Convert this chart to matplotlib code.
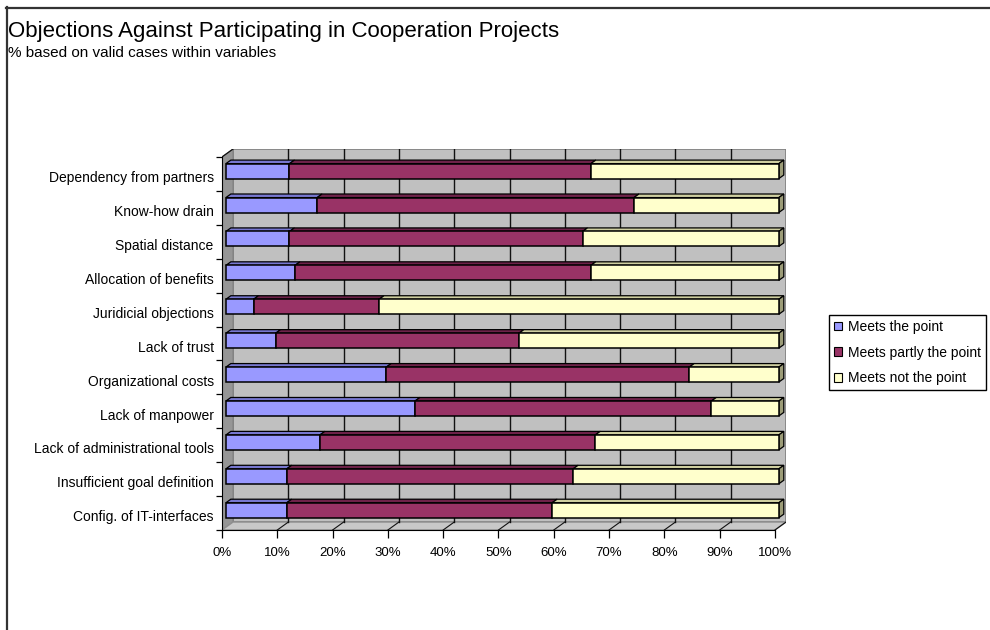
import matplotlib
matplotlib.use("Agg")
import matplotlib.pyplot as plt
from matplotlib.patches import Polygon, Patch
from matplotlib.lines import Line2D
import numpy as np

plt.rcParams['font.family'] = ['Liberation Sans', 'DejaVu Sans']

# categories listed bottom to top
objections = ['Config. of IT-interfaces', 'Insufficient goal definition',
              'Lack of administrational tools', 'Lack of manpower',
              'Organizational costs', 'Lack of trust', 'Juridicial objections',
              'Allocation of benefits', 'Spatial distance', 'Know-how drain',
              'Dependency from partners']
meets = [11.0, 11.0, 17.0, 34.2, 29.0, 9.0, 5.0, 12.5, 11.5, 16.5, 11.5]
meets_partly = [48.0, 51.8, 49.8, 53.6, 54.8, 44.0, 22.7, 53.5, 53.0, 57.3, 54.5]
meets_not = [100 - a - b for a, b in zip(meets, meets_partly)]

series_names = ['Meets the point', 'Meets partly the point', 'Meets not the point']
series_colors = ['#9999FF', '#993366', '#FFFFCC']
top_colors = ['#7777D0', '#6E2249', '#CFCFA0']
side_colors = ['#5C5CA0', '#4A1732', '#9C9C78']

# 3d depth vector in data units (x in %, y in category units)
DX, DY = 2.0, 0.235
D0, D1 = 0.35, 0.80   # front/back depth of the bars
BAR_H = 0.44


def proj(x, y, d):
    return (x + d * DX, y + d * DY)


fig = plt.figure(figsize=(9.9, 6.3), dpi=100)
ax = fig.add_axes([222 / 990, 100 / 630, 564 / 990, 381 / 630])
n = len(objections)
ax.set_xlim(0, 100 + DX)
ax.set_ylim(-0.5, n - 0.5 + DY)

# walls and floor
back = [proj(0, -0.5, 1), proj(100, -0.5, 1), proj(100, n - 0.5, 1), proj(0, n - 0.5, 1)]
ax.add_patch(Polygon(back, closed=True, fc='#C0C0C0', ec='#808080', lw=1.2, zorder=1))
left = [proj(0, -0.5, 0), proj(0, n - 0.5, 0), proj(0, n - 0.5, 1), proj(0, -0.5, 1)]
ax.add_patch(Polygon(left, closed=True, fc='#969696', ec='#808080', lw=0.8, zorder=1))
floor = [proj(0, -0.5, 0), proj(100, -0.5, 0), proj(100, -0.5, 1), proj(0, -0.5, 1)]
ax.add_patch(Polygon(floor, closed=True, fc='#C8C8C8', ec='#909090', lw=1.0, zorder=1))

# gridlines on the back wall and floor
for g in range(10, 100, 10):
    xs, ys = zip(proj(g, -0.5, 1), proj(g, n - 0.5, 1))
    ax.plot(xs, ys, color='#111111', lw=1.0, zorder=2)
for g in range(10, 101, 10):
    xs, ys = zip(proj(g, -0.5, 0), proj(g, -0.5, 1))
    ax.plot(xs, ys, color='#111111', lw=0.8, zorder=2)
xs, ys = zip(proj(0, n - 0.5, 0), proj(0, n - 0.5, 1))
ax.plot(xs, ys, color='#111111', lw=0.9, zorder=2)

# stacked 3d bars
series = [meets, meets_partly, meets_not]
cum = np.zeros(n)
for s, vals in enumerate(series):
    vals = np.array(vals)
    for i in range(n):
        l, r = cum[i], cum[i] + vals[i]
        yt = i + BAR_H / 2
        yb = i - BAR_H / 2
        top = [proj(l, yt, D0), proj(r, yt, D0), proj(r, yt, D1), proj(l, yt, D1)]
        ax.add_patch(Polygon(top, closed=True, fc=top_colors[s], ec='black', lw=0.9, zorder=3))
        if s == len(series) - 1:
            side = [proj(r, yb, D0), proj(r, yt, D0), proj(r, yt, D1), proj(r, yb, D1)]
            ax.add_patch(Polygon(side, closed=True, fc=side_colors[s], ec='black', lw=0.9, zorder=3))
    ax.barh(np.arange(n) + D0 * DY, vals, left=cum + D0 * DX, height=BAR_H,
            color=series_colors[s], edgecolor='black', linewidth=1.1, zorder=4)
    cum += vals

# axes
for sp in ['top', 'right']:
    ax.spines[sp].set_visible(False)
ax.spines['left'].set_bounds(-0.5, n - 0.5)
ax.spines['bottom'].set_bounds(0, 100)
ax.spines['left'].set_zorder(5)
ax.spines['bottom'].set_zorder(5)
ax.set_xticks(range(0, 101, 10), ['%d%%' % v for v in range(0, 101, 10)])
ax.set_yticks(np.arange(n) - 0.08, objections)
ax.set_yticks(np.arange(-0.5, n, 1.0), minor=True)
ax.tick_params(axis='x', length=6, width=0.9, pad=6, labelsize=9.5)
ax.tick_params(axis='y', which='major', length=0, pad=6, labelsize=10)
ax.tick_params(axis='y', which='minor', length=4, width=0.9)

fig.text(8 / 990, 1 - 32 / 630, 'Objections Against Participating in Cooperation Projects',
         fontsize=16, va='center', ha='left')
fig.text(8 / 990, 1 - 53 / 630, '% based on valid cases within variables',
         fontsize=11, va='center', ha='left')

handles = [Patch(facecolor=c, edgecolor='black', linewidth=0.8) for c in series_colors]
fig.legend(handles, series_names, loc='upper left', bbox_to_anchor=(829 / 990, 1 - 315 / 630),
           fontsize=10, frameon=True, fancybox=False, edgecolor='black', framealpha=1,
           handlelength=0.6, handleheight=0.6, handletextpad=0.4, labelspacing=0.85,
           borderpad=0.35, borderaxespad=0)

# chart frame
fig.add_artist(Line2D([6 / 990, 1], [1 - 7.5 / 630, 1 - 7.5 / 630], color='#333333', lw=1.6))
fig.add_artist(Line2D([6.5 / 990, 6.5 / 990], [0, 1 - 7 / 630], color='#333333', lw=1.6))

fig.savefig('out.png', dpi=100)
